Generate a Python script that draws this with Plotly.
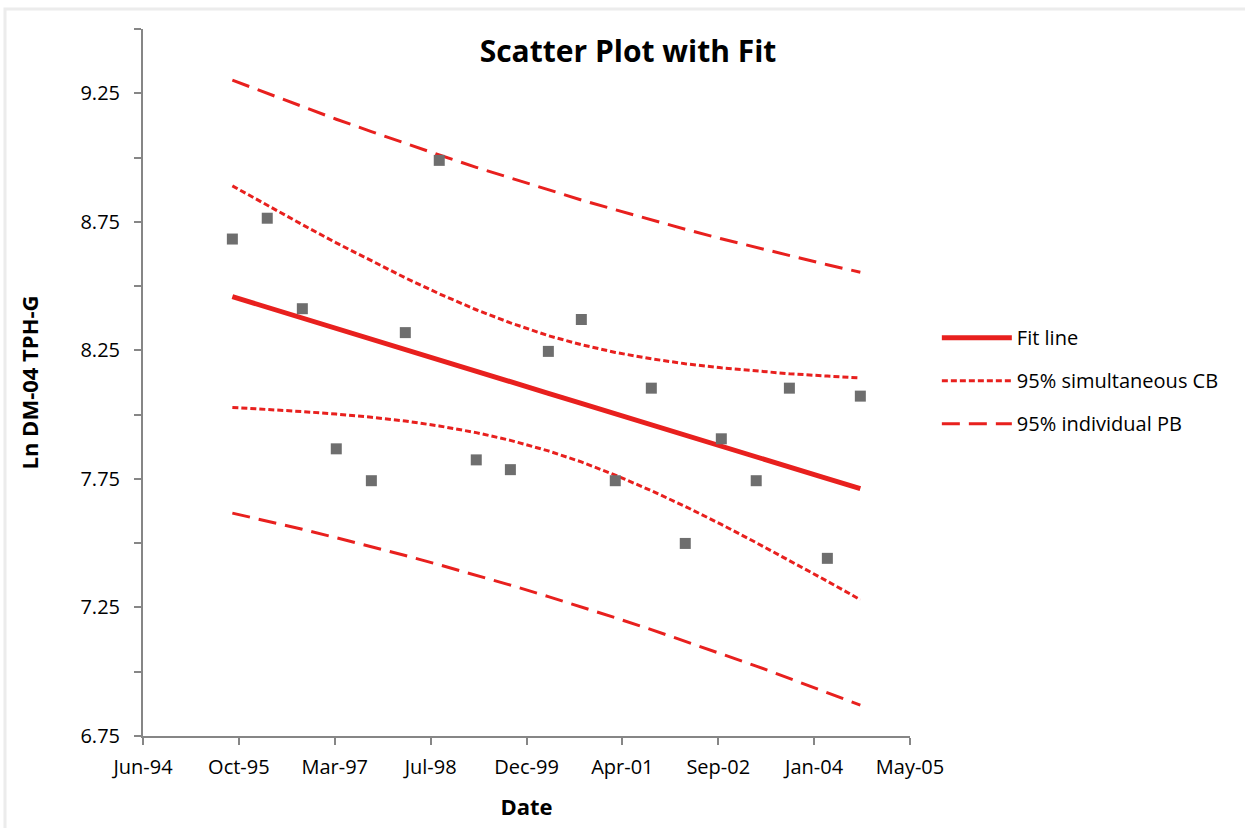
import plotly.graph_objects as go

# ---- data ----
sample_dates = ['1995-09-24', '1996-03-24', '1996-09-23', '1997-03-19', '1997-09-18',
                '1998-03-14', '1998-09-07', '1999-03-19', '1999-09-13', '2000-03-29',
                '2000-09-17', '2001-03-13', '2001-09-17', '2002-03-13', '2002-09-17',
                '2003-03-18', '2003-09-07', '2004-03-23', '2004-09-11']
ln_tph_g = [8.683, 8.764, 8.412, 7.867, 7.743, 8.319, 8.989, 7.824, 7.786, 8.246,
            8.370, 7.743, 8.103, 7.499, 7.906, 7.743, 8.103, 7.441, 8.072]
fit_line = [8.459, 8.417, 8.376, 8.335, 8.294, 8.253, 8.213, 8.169, 8.128, 8.083,
            8.044, 8.003, 7.961, 7.920, 7.877, 7.836, 7.796, 7.751, 7.712]
cb_upper = [8.890, 8.814, 8.739, 8.668, 8.598, 8.532, 8.470, 8.408, 8.357, 8.307,
            8.272, 8.242, 8.217, 8.198, 8.182, 8.169, 8.159, 8.150, 8.143]
cb_lower = [8.028, 8.021, 8.012, 8.002, 7.990, 7.975, 7.956, 7.930, 7.900, 7.859,
            7.816, 7.765, 7.704, 7.643, 7.573, 7.502, 7.433, 7.352, 7.280]
pb_upper = [9.301, 9.249, 9.198, 9.149, 9.101, 9.055, 9.010, 8.962, 8.920, 8.874,
            8.835, 8.797, 8.757, 8.721, 8.684, 8.650, 8.618, 8.583, 8.554]
pb_lower = [7.617, 7.586, 7.554, 7.521, 7.487, 7.452, 7.416, 7.375, 7.337, 7.292,
            7.252, 7.210, 7.164, 7.119, 7.070, 7.022, 6.974, 6.919, 6.870]

x_tick_dates = ['1994-06-15', '1995-10-28', '1997-03-11', '1998-07-24', '1999-12-06',
                '2001-04-19', '2002-09-01', '2004-01-14', '2005-05-28']
x_tick_labels = ['Jun-94', 'Oct-95', 'Mar-97', 'Jul-98', 'Dec-99',
                 'Apr-01', 'Sep-02', 'Jan-04', 'May-05']
y_tick_vals = [6.75, 7.0, 7.25, 7.5, 7.75, 8.0, 8.25, 8.5, 8.75, 9.0, 9.25, 9.5]
y_tick_labels = ['6.75', '', '7.25', '', '7.75', '', '8.25', '', '8.75', '', '9.25', '']

RED = '#e8201e'
FONT = 'Open Sans, Lato, sans-serif'

fig = go.Figure()

fig.add_trace(go.Scatter(
    x=sample_dates, y=pb_upper, mode='lines', name='95% individual PB',
    legendgroup='pb', legendrank=3,
    line=dict(color=RED, width=3, dash='18px,9px')))
fig.add_trace(go.Scatter(
    x=sample_dates, y=pb_lower, mode='lines', name='95% individual PB',
    legendgroup='pb', showlegend=False,
    line=dict(color=RED, width=3, dash='18px,9px')))
fig.add_trace(go.Scatter(
    x=sample_dates, y=cb_upper, mode='lines', name='95% simultaneous CB',
    legendgroup='cb', legendrank=2,
    line=dict(color=RED, width=3, dash='6px,3px')))
fig.add_trace(go.Scatter(
    x=sample_dates, y=cb_lower, mode='lines', name='95% simultaneous CB',
    legendgroup='cb', showlegend=False,
    line=dict(color=RED, width=3, dash='6px,3px')))
fig.add_trace(go.Scatter(
    x=sample_dates, y=fit_line, mode='lines', name='Fit line',
    legendgroup='fit', legendrank=1,
    line=dict(color=RED, width=5)))
fig.add_trace(go.Scatter(
    x=sample_dates, y=ln_tph_g, mode='markers', name='Ln DM-04 TPH-G',
    showlegend=False,
    marker=dict(symbol='square', size=11, color='#6e6e6e')))

axis_common = dict(
    showgrid=False, zeroline=False, showline=True, linecolor='#868686', linewidth=2,
    ticks='outside', ticklen=7, tickwidth=2, tickcolor='#868686',
    tickfont=dict(family=FONT, size=20, color='black'),
)

fig.update_xaxes(
    type='date', range=[x_tick_dates[0], x_tick_dates[-1]],
    tickmode='array', tickvals=x_tick_dates, ticktext=x_tick_labels,
    ticklabelstandoff=5,
    title=dict(text='<b>Date</b>', font=dict(family=FONT, size=22, color='black'), standoff=21),
    **axis_common)
fig.update_yaxes(
    range=[6.75, 9.5], tickmode='array', tickvals=y_tick_vals, ticktext=y_tick_labels,
    ticklabelstandoff=10,
    title=dict(text='<b>Ln DM-04 TPH-G</b>', font=dict(family=FONT, size=22, color='black'), standoff=36),
    **axis_common)

fig.update_layout(
    width=1245, height=828,
    margin=dict(l=143, r=335, t=29, b=88),
    paper_bgcolor='white', plot_bgcolor='white',
    title=dict(text='<b>Scatter Plot with Fit</b>', font=dict(family=FONT, size=30, color='black'),
               x=628 / 1245, xref='container', xanchor='center',
               y=1 - 51 / 828, yref='container', yanchor='middle'),
    legend=dict(x=1.035, y=0.591, xanchor='left', yanchor='top',
                font=dict(family=FONT, size=20, color='black'),
                traceorder='grouped', tracegroupgap=14, itemwidth=70,
                bgcolor='rgba(0,0,0,0)'),
    font=dict(family=FONT),
    shapes=[dict(type='rect', xref='paper', yref='paper',
                 x0=(5 - 143) / 767, x1=(1300 - 143) / 767,
                 y0=(740 - 900) / 711, y1=(740 - 9) / 711,
                 line=dict(color='#ececec', width=3), fillcolor='rgba(0,0,0,0)', layer='below')],
)

fig.write_html('out.html', config={'displayModeBar': False},
               post_script="document.body.style.margin='0';")
